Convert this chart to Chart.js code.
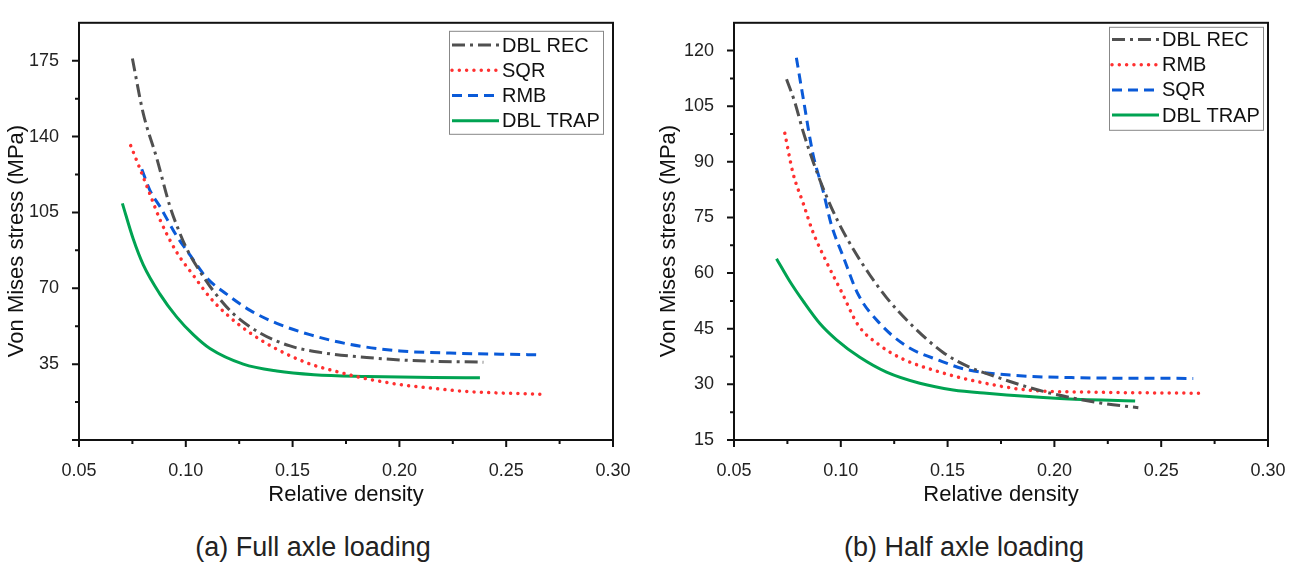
<!DOCTYPE html>
<html>
<head>
<meta charset="utf-8">
<script src="https://cdn.jsdelivr.net/npm/chart.js@4.4.0/dist/chart.umd.min.js"></script>
<style>
  html, body { margin: 0; padding: 0; background: #fff; }
  #wrap { position: relative; width: 1298px; height: 563px; font-family: "Liberation Sans", Arial, sans-serif; }
  .panel { position: absolute; top: 0; width: 649px; height: 520px; }
  .caption { position: absolute; top: 534px; width: 500px; font-size: 27px; line-height: 27px; color: #222; text-align: center; }
</style>
</head>
<body>
<div id="wrap">
  <div class="panel" style="left:0"><canvas id="fullChart" width="649" height="520"></canvas></div>
  <div class="panel" style="left:649px"><canvas id="halfChart" width="649" height="520"></canvas></div>
  <div class="caption" style="left:63px">(a) Full axle loading</div>
  <div class="caption" style="left:714px">(b) Half axle loading</div>
</div>
<script>
// tick labels
const densityLabels = [0.05, 0.10, 0.15, 0.20, 0.25, 0.30];
const fullStressLabels = [35, 70, 105, 140, 175];
const halfStressLabels = [15, 30, 45, 60, 75, 90, 105, 120];

// (a) full axle loading
const fullLabels = ['DBL REC', 'SQR', 'RMB', 'DBL TRAP'];
const fullRecX  = [0.075, 0.080, 0.0864, 0.0926, 0.0965, 0.1004, 0.1066, 0.1129, 0.1222, 0.1347, 0.1488, 0.1644, 0.1847, 0.205, 0.2393];
const fullRecY  = [176, 151, 130, 107.7, 97.2, 88.3, 77.8, 68.8, 58.3, 49.4, 43.4, 40.2, 38.1, 36.7, 35.9];
const fullSqrX  = [0.0742, 0.0790, 0.0832, 0.0879, 0.0957, 0.1035, 0.1113, 0.1191, 0.1301, 0.1426, 0.1581, 0.1675, 0.1847, 0.2003, 0.2159, 0.2315, 0.2690];
const fullSqrY  = [135.8, 124, 113.5, 101.7, 86.7, 76.0, 65.8, 58.0, 49.4, 41.9, 35.1, 32.4, 28.2, 25.6, 23.8, 22.4, 21.0];
const fullRmbX  = [0.0794, 0.0832, 0.0879, 0.0957, 0.1020, 0.1098, 0.1191, 0.1301, 0.1426, 0.1581, 0.1769, 0.2003, 0.2237, 0.2650];
const fullRmbY  = [124.9, 115.2, 107.7, 94.2, 85.3, 74.8, 67.3, 59.8, 53.8, 48.6, 44.1, 41.1, 40.1, 39.3];
const fullTrapX = [0.0703, 0.0754, 0.0801, 0.0879, 0.0957, 0.1035, 0.1113, 0.1269, 0.1426, 0.1600, 0.1847, 0.2159, 0.2377];
const fullTrapY = [109.2, 92.7, 80.8, 67.3, 56.8, 48.6, 42.2, 35.0, 31.8, 30.1, 29.3, 28.8, 28.7];

// (b) half axle loading
const halfLabels = ['DBL REC', 'RMB', 'SQR', 'DBL TRAP'];
const halfRecX  = [0.0746, 0.0784, 0.0823, 0.0870, 0.0925, 0.0987, 0.1058, 0.1136, 0.1214, 0.1339, 0.1479, 0.1604, 0.1683, 0.1948, 0.2214, 0.2393];
const halfRecY  = [112.3, 106.2, 98.3, 90.1, 81.8, 73.9, 66.5, 59.5, 53.4, 45.6, 38.6, 34.6, 32.9, 28.1, 25.0, 23.7];
const halfRmbX  = [0.0738, 0.0776, 0.0823, 0.0870, 0.0933, 0.1003, 0.1081, 0.1183, 0.1292, 0.1448, 0.1620, 0.1870, 0.2182, 0.2698];
const halfRmbY  = [97.7, 87, 79, 71, 63, 55, 46, 40.5, 36.8, 33.6, 31.0, 28.5, 27.9, 27.6];
const halfSqrX  = [0.0792, 0.0823, 0.0870, 0.0917, 0.0956, 0.1011, 0.1081, 0.1183, 0.1308, 0.1464, 0.1581, 0.1792, 0.2104, 0.2650];
const halfSqrY  = [118.1, 107.5, 92, 82.2, 73, 64.5, 54.3, 46.4, 40.3, 36.4, 34.1, 32.5, 31.8, 31.6];
const halfTrapX = [0.0699, 0.0761, 0.0823, 0.0902, 0.0980, 0.1089, 0.1214, 0.1370, 0.1526, 0.1683, 0.2026, 0.2378];
const halfTrapY = [63.9, 57.8, 52.5, 46.4, 42.0, 37.3, 33.3, 30.3, 28.5, 27.6, 26.2, 25.5];

const FONT = '"Liberation Sans", Arial, sans-serif';
const lineStyles = [
  { color: '#505050', dash: [13, 5, 3, 5], cap: 'butt' },
  { color: '#FF3030', dash: [0.01, 7.3], cap: 'round' },
  { color: '#0A5AD8', dash: [10, 6], cap: 'butt' },
  { color: '#00A352', dash: [], cap: 'butt' }
];

const pts = (xs, ys) => xs.map((x, i) => ({ x, y: ys[i] }));

function makeSets(labels, series) {
  return series.map((s, i) => ({
    label: labels[i],
    data: pts(s[0], s[1]),
    borderColor: lineStyles[i].color,
    borderDash: lineStyles[i].dash,
    borderCapStyle: lineStyles[i].cap,
    borderWidth: i === 1 ? 3.5 : 3,
    pointRadius: 0,
    fill: false,
    cubicInterpolationMode: 'monotone'
  }));
}

// frame + outward ticks (minor ones shorter) + rotated y title
const framePlugin = {
  id: 'frame',
  afterDatasetsDraw(chart, args, opts) {
    const { ctx, chartArea: a, scales: { x, y } } = chart;
    ctx.save();
    ctx.strokeStyle = '#111';
    ctx.lineWidth = 2;
    ctx.setLineDash([]);
    ctx.strokeRect(a.left, a.top, a.right - a.left, a.bottom - a.top);
    ctx.beginPath();
    x.ticks.forEach(t => {
      const px = x.getPixelForValue(t.value);
      const len = t.label ? 7 : 4;
      ctx.moveTo(px, a.bottom);
      ctx.lineTo(px, a.bottom + len);
    });
    y.ticks.forEach(t => {
      if (t.value >= y.max) return;
      const py = y.getPixelForValue(t.value);
      const len = (t.label || t.value === y.min) ? 7 : 4;
      ctx.moveTo(a.left, py);
      ctx.lineTo(a.left - len, py);
    });
    ctx.stroke();

    ctx.translate(opts.titleX, opts.titleY);
    ctx.rotate(-Math.PI / 2);
    ctx.fillStyle = '#111';
    ctx.font = '22px ' + FONT;
    ctx.textAlign = 'center';
    ctx.textBaseline = 'middle';
    ctx.fillText('Von Mises stress (MPa)', 0, 0);
    ctx.restore();
  }
};

// boxed legend inside the plot, top right
const boxLegend = {
  id: 'boxLegend',
  afterDraw(chart, args, opts) {
    const { ctx, chartArea: a } = chart;
    const w = 154, h = 103, rowH = 25.2;
    const left = a.right - opts.right - w, top = a.top + opts.top;
    ctx.save();
    ctx.fillStyle = '#fff';
    ctx.fillRect(left, top, w, h);
    ctx.strokeStyle = '#888';
    ctx.lineWidth = 1;
    ctx.strokeRect(left + 0.5, top + 0.5, w, h);
    chart.data.datasets.forEach((ds, i) => {
      const cy = top + opts.first + i * rowH;
      ctx.strokeStyle = ds.borderColor;
      ctx.lineWidth = ds.borderWidth;
      ctx.lineCap = ds.borderCapStyle;
      ctx.setLineDash(ds.borderDash);
      ctx.beginPath();
      ctx.moveTo(left + 3, cy);
      ctx.lineTo(left + 50, cy);
      ctx.stroke();
      ctx.setLineDash([]);
      ctx.fillStyle = '#111';
      ctx.font = '20px ' + FONT;
      ctx.textBaseline = 'middle';
      ctx.fillText(ds.label, left + 53, cy + 1);
    });
    ctx.restore();
  }
};

function makeChart(id, datasets, cfg) {
  new Chart(document.getElementById(id), {
    type: 'line',
    data: { datasets },
    options: {
      responsive: false,
      animation: false,
      layout: { padding: { left: 0, right: cfg.padRight, top: cfg.padTop, bottom: 0 } },
      plugins: {
        legend: { display: false },
        tooltip: { enabled: false },
        boxLegend: cfg.legend,
        frame: { titleX: cfg.titleX, titleY: 241 }
      },
      scales: {
        x: {
          type: 'linear',
          min: 0.05,
          max: 0.30,
          afterFit: s => { s.height = 80; },
          grid: { display: false },
          border: { display: false },
          ticks: {
            stepSize: 0.025,
            autoSkip: false,
            maxRotation: 0,
            padding: 12,
            color: '#222',
            font: { size: 18, family: FONT },
            callback: v => densityLabels.some(l => Math.abs(l - v) < 1e-6) ? v.toFixed(2) : ''
          },
          title: {
            display: true,
            text: 'Relative density',
            color: '#111',
            font: { size: 22, family: FONT },
            padding: { top: 0, bottom: 12 }
          }
        },
        y: {
          min: cfg.yMin,
          max: cfg.yMax,
          afterFit: s => { s.width = cfg.yWidth; },
          grid: { display: false },
          border: { display: false },
          ticks: {
            stepSize: cfg.yStep,
            autoSkip: false,
            padding: 12,
            color: '#222',
            font: { size: 18, family: FONT },
            callback: v => cfg.yLabels.includes(v) ? String(v) : ''
          }
        }
      }
    },
    plugins: [framePlugin, boxLegend]
  });
}

makeChart('fullChart', makeSets(fullLabels, [
  [fullRecX, fullRecY], [fullSqrX, fullSqrY], [fullRmbX, fullRmbY], [fullTrapX, fullTrapY]
]), {
  padRight: 36, padTop: 11, yWidth: 79, titleX: 17,
  yMin: 0, yMax: 192.5, yStep: 17.5, yLabels: fullStressLabels,
  legend: { right: 10, top: 8, first: 14.3 }
});

makeChart('halfChart', makeSets(halfLabels, [
  [halfRecX, halfRecY], [halfRmbX, halfRmbY], [halfSqrX, halfSqrY], [halfTrapX, halfTrapY]
]), {
  padRight: 30, padTop: 10, yWidth: 85, titleX: 20,
  yMin: 15, yMax: 127.5, yStep: 7.5, yLabels: halfStressLabels,
  legend: { right: 5, top: 4, first: 12.7 }
});
</script>
</body>
</html>
